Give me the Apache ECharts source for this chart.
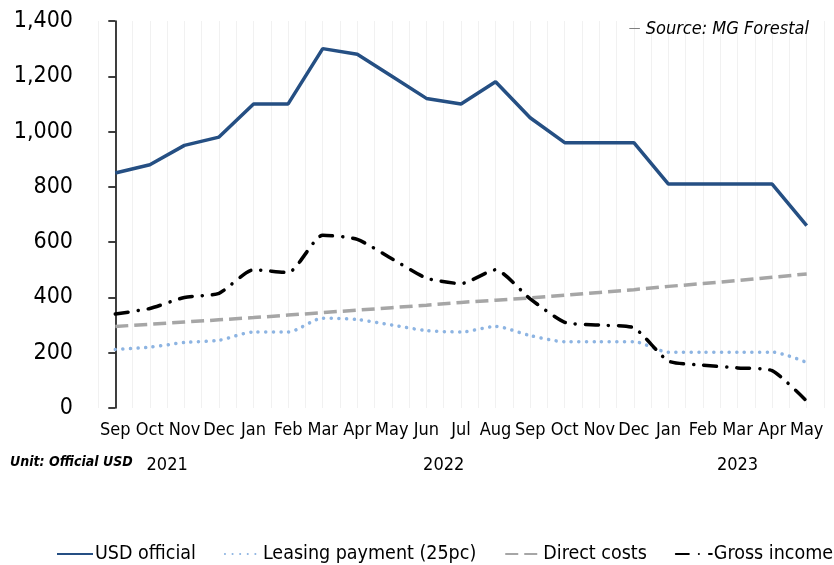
<!DOCTYPE html>
<html>
<head>
<meta charset="utf-8">
<script src="https://cdn.jsdelivr.net/npm/echarts@6/dist/echarts.min.js"></script>
<style>
  html, body { margin: 0; padding: 0; background: #fff; }
  #chart { width: 834px; height: 565px; }
</style>
</head>
<body>
<div id="chart"></div>
<script>
// months Sep 2021 .. May 2023
var months = ['Sep','Oct','Nov','Dec','Jan','Feb','Mar','Apr','May','Jun','Jul','Aug','Sep','Oct','Nov','Dec','Jan','Feb','Mar','Apr','May'];
var years = ['2021', '2022', '2023'];
var yearCenters = [1.5, 9.5, 18];

var usdOfficial = [850, 880, 950, 980, 1100, 1100, 1300, 1280, 1200, 1120, 1100, 1180, 1050, 960, 960, 960, 810, 810, 810, 810, 660];
var leasing = [212, 220, 237, 245, 275, 275, 325, 320, 300, 280, 275, 295, 262, 240, 240, 240, 202, 202, 202, 202, 165];
var directCosts = [295, 303, 311, 319, 327, 336, 345, 354, 363, 372, 382, 390, 398, 408, 418, 428, 440, 450, 461, 473, 485];
var grossIncome = [340, 360, 400, 415, 500, 490, 625, 610, 540, 470, 450, 500, 395, 310, 300, 290, 170, 155, 145, 135, 25];

var font = 'DejaVu Sans Condensed';

function pairs(arr) {
  return arr.map(function (v, i) { return [i, v]; });
}

var chart = echarts.init(document.getElementById('chart'));
chart.setOption({
  animation: false,
  textStyle: { fontFamily: font, color: '#000' },
  title: {
    text: '{d|\u2014} Source: MG Forestal',
    right: 20,
    top: 15,
    textStyle: {
      fontFamily: font, fontSize: 18, fontStyle: 'italic', fontWeight: 'normal', color: '#000',
      rich: { d: { fontFamily: font, fontSize: 13, color: '#808080' } }
    }
  },
  grid: { left: 98, right: 10, top: 21, bottom: 157 },
  legend: {
    bottom: 1,
    left: 56,
    width: 800,
    padding: 0,
    itemWidth: 36,
    itemHeight: 10,
    itemGap: 28,
    itemStyle: { opacity: 0 },
    textStyle: { fontFamily: font, fontSize: 19.5, color: '#000', padding: [0, 0, 0, -3] },
    data: ['USD official', 'Leasing payment (25pc)', 'Direct costs', 'Gross income']
  },
  graphic: [{
    type: 'text',
    left: 10,
    top: 455,
    style: { text: 'Unit: Official USD', font: 'italic bold 14px "' + font + '"', fill: '#000' }
  }],
  xAxis: [{
    type: 'value',
    min: -0.5,
    max: 20.5,
    interval: 0.5,
    axisLine: { show: false },
    axisTick: { show: false },
    splitLine: { show: true, lineStyle: { color: '#f1f1f1', width: 1 } },
    axisLabel: {
      fontSize: 18,
      margin: 13,
      color: '#000',
      showMinLabel: true,
      showMaxLabel: true,
      formatter: function (v) {
        return Number.isInteger(v) ? months[v] : '';
      }
    }
  }, {
    type: 'value',
    position: 'bottom',
    offset: 40,
    min: -0.5,
    max: 20.5,
    axisLine: { show: false },
    axisTick: { show: false },
    splitLine: { show: false },
    axisLabel: {
      fontSize: 18,
      color: '#000',
      customValues: yearCenters,
      formatter: function (v) {
        return years[yearCenters.indexOf(v)];
      }
    }
  }],
  yAxis: {
    type: 'value',
    min: 0,
    max: 1400,
    interval: 200,
    axisLine: { show: true, lineStyle: { color: '#000', width: 1.5 } },
    axisTick: { show: true, length: 7, lineStyle: { color: '#000', width: 1.5 } },
    splitLine: { show: false },
    axisLabel: {
      fontSize: 23,
      margin: 25,
      color: '#000',
      formatter: function (v) { return v.toLocaleString('en-US'); }
    }
  },
  series: [{
    name: 'USD official',
    type: 'line',
    data: pairs(usdOfficial),
    symbol: 'none',
    color: '#254f83',
    lineStyle: { width: 3.5, color: '#254f83' }
  }, {
    name: 'Leasing payment (25pc)',
    type: 'line',
    data: pairs(leasing),
    symbol: 'none',
    smooth: 0.25,
    color: '#8db4e2',
    lineStyle: { width: 3.5, color: '#8db4e2', type: [0.1, 7.5], cap: 'round' }
  }, {
    name: 'Direct costs',
    type: 'line',
    data: pairs(directCosts),
    symbol: 'none',
    color: '#a6a6a6',
    lineStyle: { width: 3.5, color: '#a6a6a6', type: [13, 6] }
  }, {
    name: 'Gross income',
    type: 'line',
    data: pairs(grossIncome),
    symbol: 'none',
    smooth: 0.2,
    color: '#000',
    lineStyle: { width: 3.5, color: '#000', type: [13, 10, 0.1, 10], cap: 'round' }
  }]
});
</script>
</body>
</html>
